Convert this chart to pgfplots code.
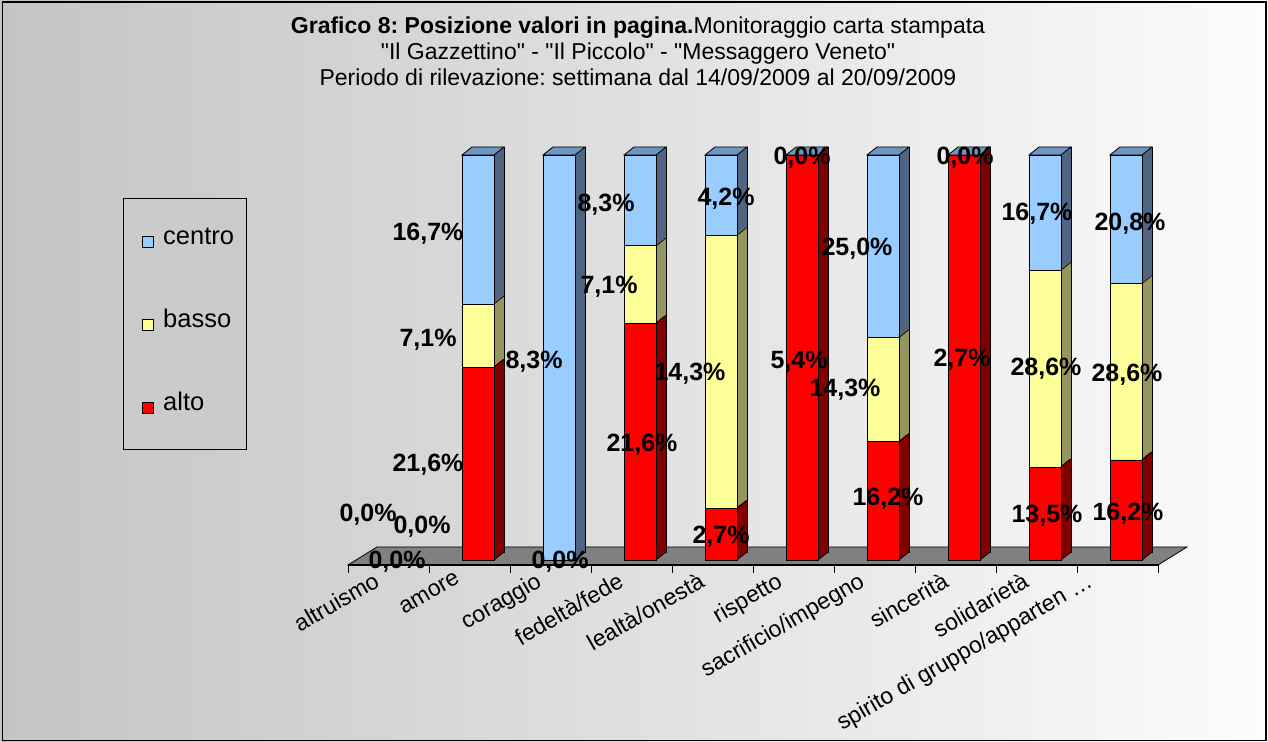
\documentclass[border=0pt]{standalone}
\usepackage{pgfplots}
\pgfplotsset{compat=1.18}
\usepackage{pgfplotstable}
\usepackage{fontspec}
\setmainfont{Liberation Sans}
\newfontfamily\qfont{Liberation Sans}
\frenchspacing
\definecolor{cblue}{RGB}{153,204,255}
\definecolor{cyellow}{RGB}{255,255,153}
\definecolor{cred}{RGB}{255,0,0}
\definecolor{sblue}{RGB}{79,100,128}
\definecolor{syellow}{RGB}{150,150,95}
\definecolor{sred}{RGB}{128,0,0}
\definecolor{tblue}{RGB}{110,150,195}
\definecolor{bgl}{RGB}{196,196,196}
\definecolor{bgr}{RGB}{252,252,252}
\definecolor{floorc}{RGB}{128,128,128}
\definecolor{legbg}{RGB}{203,203,203}

\pgfdeclareplotmark{diag}{\pgfpathmoveto{\pgfpointorigin}\pgfpathlineto{\pgfpoint{10bp}{8bp}}\pgfusepathqstroke}
\pgfdeclareplotmark{topface}{\pgfpathmoveto{\pgfpoint{-16bp}{0bp}}\pgfpathlineto{\pgfpoint{16bp}{0bp}}\pgfpathlineto{\pgfpoint{26bp}{8bp}}\pgfpathlineto{\pgfpoint{-6bp}{8bp}}\pgfpathclose\pgfusepathqfillstroke}

% cumulative shares of each column (alto, alto+basso, total) from the labelled percentages
\pgfplotstableread{
x  z  cA     cB     cC
1  0  0.4758 0.6322 1
2  0  0      0      1
3  0  0.5838 0.7757 1
4  0  0.1274 0.8019 1
5  0  1      1      1
6  0  0.2919 0.5495 1
7  0  1      1      1
8  0  0.2296 0.7160 1
9  0  0.2470 0.6829 1
}\cum

\newcommand\lab[3]{\node[font=\fontsize{25bp}{29bp}\selectfont\bfseries, inner sep=0pt, text height=17.5bp, text depth=0pt] at (#1,742-#2) {#3};}

\begin{document}
\begin{tikzpicture}
\begin{scope}[x=1bp,y=1bp]
\shade[left color=bgl,right color=bgr] (0,0) rectangle (1268,742);
\draw[line width=1.5bp] (2.5,1.5) rectangle (1266,740);
\draw[fill=floorc, line width=0.8bp] (348,177) -- (377,195) -- (1187,195) -- (1158,177) -- cycle;
\draw[line width=1.2bp] (348,177) -- (1158,177);
\foreach \i in {0,...,10} \draw[line width=0.8bp] ({348+81*\i},177) -- ++(0,-8);
\end{scope}
\begin{axis}[at={(0,0)}, anchor=south west, scale only axis, width=1268bp, height=742bp,
  xmin=-4.90123, xmax=10.75309, ymin=-0.449383, ymax=1.382716, hide axis, clip=false]
% side faces
\pgfplotsinvokeforeach{0,...,10}{
 \addplot[ybar, bar width=2bp, bar shift=15bp, fill=sblue, draw=none, xshift=#1bp, yshift=#1*0.8bp] table[x=x,y=cC]{\cum};
}
\pgfplotsinvokeforeach{0,...,10}{
 \addplot[ybar, bar width=2bp, bar shift=15bp, fill=syellow, draw=none, xshift=#1bp, yshift=#1*0.8bp] table[x=x,y=cB]{\cum};
}
\pgfplotsinvokeforeach{0,...,10}{
 \addplot[ybar, bar width=2bp, bar shift=15bp, fill=sred, draw=none, xshift=#1bp, yshift=#1*0.8bp] table[x=x,y=cA]{\cum};
}
% edges of side faces
\addplot[only marks, mark=diag, mark options={draw=black, line width=0.8bp}, xshift=16bp] table[x=x,y=z]{\cum};
\addplot[only marks, mark=diag, mark options={draw=black, line width=0.8bp}, xshift=16bp] table[x=x,y=cA]{\cum};
\addplot[only marks, mark=diag, mark options={draw=black, line width=0.8bp}, xshift=16bp] table[x=x,y=cB]{\cum};
\addplot[ybar, bar width=0.01bp, bar shift=26bp, draw=black, fill=none, line width=0.8bp, yshift=8bp] table[x=x,y=cC]{\cum};
% top faces
\addplot[only marks, mark=topface, mark options={fill=tblue, draw=black, line width=0.8bp}] table[x=x,y=cC]{\cum};
% front faces
\addplot[ybar, bar width=32bp, bar shift=0pt, fill=cblue, draw=black, line width=0.8bp] table[x=x,y=cC]{\cum};
\addplot[ybar, bar width=32bp, bar shift=0pt, fill=cyellow, draw=black, line width=0.8bp] table[x=x,y=cB]{\cum};
\addplot[ybar, bar width=32bp, bar shift=0pt, fill=cred, draw=black, line width=0.8bp] table[x=x,y=cA]{\cum};
\end{axis}
\begin{scope}[x=1bp,y=1bp]
% title
\node[font=\fontsize{23bp}{27bp}\selectfont, anchor=base] at (638,742-34) {\textbf{Grafico 8: Posizione valori in pagina.}Monitoraggio carta stampata};
\node[font=\qfont\fontsize{23bp}{27bp}\selectfont, anchor=base] at (638,742-60) {"Il Gazzettino" - "Il Piccolo" - "Messaggero Veneto"};
\node[font=\fontsize{23bp}{27bp}\selectfont, anchor=base] at (638,742-86) {Periodo di rilevazione: settimana dal 14/09/2009 al 20/09/2009};
% legend
\draw[fill=legbg, line width=0.8bp] (123,544) rectangle (246,293);
\draw[fill=cblue, line width=0.8bp] (142,495) rectangle (153,506);
\draw[fill=cyellow, line width=0.8bp] (142,412) rectangle (153,423);
\draw[fill=cred, line width=0.8bp] (142,329) rectangle (153,340);
\node[font=\fontsize{25.5bp}{29bp}\selectfont, anchor=mid west, inner sep=0pt] at (163,500) {centro};
\node[font=\fontsize{25.5bp}{29bp}\selectfont, anchor=mid west, inner sep=0pt] at (163,417) {basso};
\node[font=\fontsize{25.5bp}{29bp}\selectfont, anchor=mid west, inner sep=0pt] at (163,334) {alto};
% category labels
\foreach \n/\o [count=\i from 0] in {altruismo/-16,amore/-15,coraggio/-16,fedeltà\slash fede/-15,lealtà\slash onestà/-15,rispetto/-18,sacrificio\slash impegno/-17,sincerità/-14,solidarietà/-15,spirito di gruppo\slash apparten …/-32}
  \node[rotate=30, anchor=north east, inner sep=0pt, font=\fontsize{23bp}{28bp}\selectfont] at ({388.5+81*\i+\o},171) {\n};
% value labels
\lab{368}{513}{0,0\%}
\lab{422}{525}{0,0\%}
\lab{397}{560}{0,0\%}
\lab{428}{232}{16,7\%}
\lab{428}{338}{7,1\%}
\lab{428}{463}{21,6\%}
\lab{534}{360}{8,3\%}
\lab{560}{560}{0,0\%}
\lab{606}{203}{8,3\%}
\lab{609}{285}{7,1\%}
\lab{642}{443}{21,6\%}
\lab{726}{197}{4,2\%}
\lab{690}{372}{14,3\%}
\lab{721}{535}{2,7\%}
\lab{802}{156}{0,0\%}
\lab{799}{360}{5,4\%}
\lab{857}{247}{25,0\%}
\lab{845}{388}{14,3\%}
\lab{888}{497}{16,2\%}
\lab{965}{156}{0,0\%}
\lab{962}{358}{2,7\%}
\lab{1037}{212}{16,7\%}
\lab{1046}{367}{28,6\%}
\lab{1047}{514}{13,5\%}
\lab{1130}{222}{20,8\%}
\lab{1127}{373}{28,6\%}
\lab{1128}{512}{16,2\%}
\end{scope}
\end{tikzpicture}
\end{document}
